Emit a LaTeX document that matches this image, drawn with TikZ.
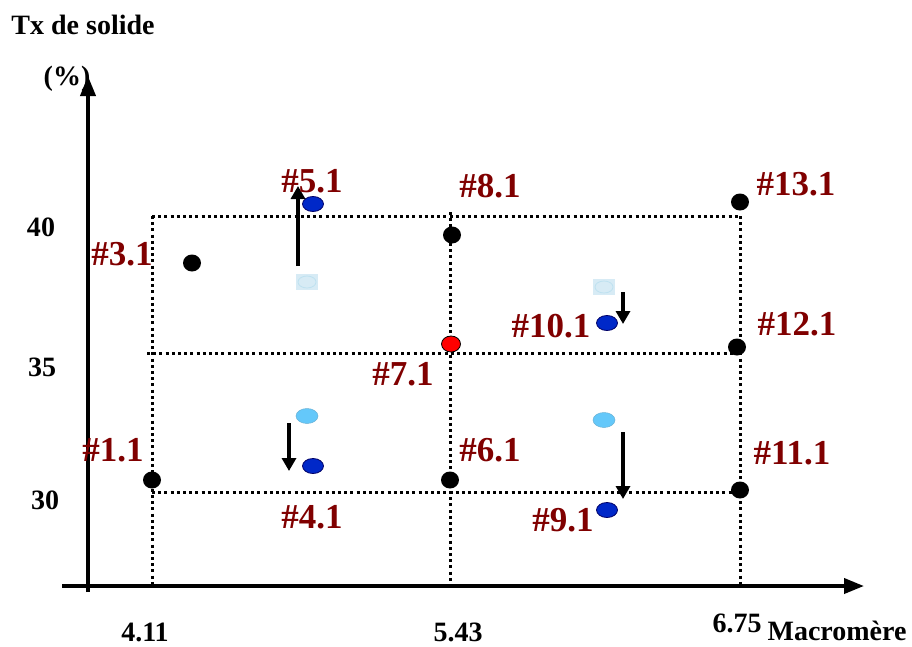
\documentclass[tikz,border=0pt]{standalone}
\usepackage{fontspec}
\setmainfont{Liberation Serif}
\usetikzlibrary{arrows.meta,shapes.geometric}
\definecolor{lab}{RGB}{128,0,0}
\definecolor{dblue}{RGB}{0,40,200}
\definecolor{lblue}{RGB}{100,200,250}
\definecolor{pblue}{RGB}{215,235,245}
\definecolor{pring}{RGB}{190,225,240}
\tikzset{
  axis/.style={line width=3.8pt,-{Triangle[length=20pt,width=15pt]}},
  grid/.style={line width=3pt,dash pattern=on 3pt off 3.2pt},
  pt/.style={ellipse,fill=black,minimum width=18pt,minimum height=17pt,inner sep=0pt},
  redpt/.style={ellipse,fill=red,draw=black,line width=0.8pt,minimum width=19pt,minimum height=16pt,inner sep=0pt},
  bluept/.style={ellipse,fill=dblue,draw=blue!40!black,line width=0.8pt,minimum width=21pt,minimum height=15pt,inner sep=0pt},
  ltpt/.style={ellipse,fill=lblue,draw=lblue!70!gray,line width=0.5pt,minimum width=22pt,minimum height=15pt,inner sep=0pt},
  palept/.style={rectangle,fill=pblue,minimum width=22pt,minimum height=16pt,inner sep=0pt},
  move/.style={line width=4.2pt,-{Triangle[length=13pt,width=14pt]}},
  lbl/.style={text=lab,font=\fontsize{35}{35}\selectfont\bfseries,inner sep=0pt},
  ax/.style={font=\fontsize{28}{28}\selectfont\bfseries,inner sep=0pt},
}
\begin{document}
\begin{tikzpicture}[x=1pt,y=-1pt]
\useasboundingbox (0,0) rectangle (912,646);
% axes
\coordinate (yb) at (88,592);
\coordinate (yt) at (88,76);
\coordinate (xl) at (62,586);
\coordinate (xr) at (864,586);
\draw[axis] (yb) -- (yt);
\draw[axis] (xl) -- (xr);
% grid
\coordinate (h1a) at (152,216); \coordinate (h1b) at (740,216);
\coordinate (h2a) at (147,353); \coordinate (h2b) at (740,353);
\coordinate (h3a) at (152,492); \coordinate (h3b) at (740,492);
\coordinate (v1a) at (152,216); \coordinate (v1b) at (152,586);
\coordinate (v2a) at (450,212); \coordinate (v2b) at (450,586);
\coordinate (v3a) at (740,216); \coordinate (v3b) at (740,586);
\draw[grid] (h1a) -- (h1b);
\draw[grid] (h2a) -- (h2b);
\draw[grid] (h3a) -- (h3b);
\draw[grid] (v1a) -- (v1b);
\draw[grid] (v2a) -- (v2b);
\draw[grid] (v3a) -- (v3b);
% black points
\node[pt] (p11) at (152,480) {};
\node[pt] (p61) at (450,480) {};
\node[pt] (p111) at (740,490) {};
\node[pt] (p31) at (192,263) {};
\node[pt] (p81) at (452,235) {};
\node[pt] (p131) at (740,202) {};
\node[pt] (p121) at (737,347) {};
\node[redpt] (p71) at (451,344) {};
% blue points
\node[bluept] (p51) at (313,204) {};
\node[bluept] (p101) at (607,323) {};
\node[bluept] (p41) at (313,466) {};
\node[bluept] (p91) at (607,510) {};
% pale / light points
\node[palept] (q5) at (307,282) {};
\node[ellipse,draw=pring,line width=0.8pt,minimum width=18pt,minimum height=12pt,inner sep=0pt] (q5r) at (307,282) {};
\node[palept] (q10) at (604,287) {};
\node[ellipse,draw=pring,line width=0.8pt,minimum width=18pt,minimum height=12pt,inner sep=0pt] (q10r) at (604,287) {};
\node[ltpt] (q4) at (307,416) {};
\node[ltpt] (q9) at (604,420) {};
% movement arrows
\coordinate (a1s) at (298,266); \coordinate (a1e) at (298,186);
\coordinate (a2s) at (623,292); \coordinate (a2e) at (623,324);
\coordinate (a3s) at (289,423); \coordinate (a3e) at (289,471);
\coordinate (a4s) at (623,432); \coordinate (a4e) at (623,499);
\draw[move] (a1s) -- (a1e);
\draw[move] (a2s) -- (a2e);
\draw[move] (a3s) -- (a3e);
\draw[move] (a4s) -- (a4e);
% labels
\node[lbl] (l51) at (312,181) {\#5.1};
\node[lbl] (l81) at (490,186) {\#8.1};
\node[lbl] (l131) at (796,184) {\#13.1};
\node[lbl] (l31) at (122,254) {\#3.1};
\node[lbl] (l101) at (551,326) {\#10.1};
\node[lbl] (l121) at (797,324) {\#12.1};
\node[lbl] (l71) at (403,374) {\#7.1};
\node[lbl] (l11) at (113,450) {\#1.1};
\node[lbl] (l61) at (490,450) {\#6.1};
\node[lbl] (l111) at (792,453) {\#11.1};
\node[lbl] (l41) at (312,517) {\#4.1};
\node[lbl] (l91) at (563,520) {\#9.1};
% axis texts
\node[ax] (t1) at (83,25) {Tx de solide};
\node[ax] (t2) at (67,79) {(\%)};
\node[ax] (y40) at (41,227) {40};
\node[ax] (y35) at (42,367) {35};
\node[ax] (y30) at (45,500) {30};
\node[ax] (x1) at (145,632) {4.11};
\node[ax] (x2) at (458,632) {5.43};
\node[ax] (x3) at (737,623) {6.75};
\node[ax] (x4) at (837,631) {Macromère};
\end{tikzpicture}
\end{document}
